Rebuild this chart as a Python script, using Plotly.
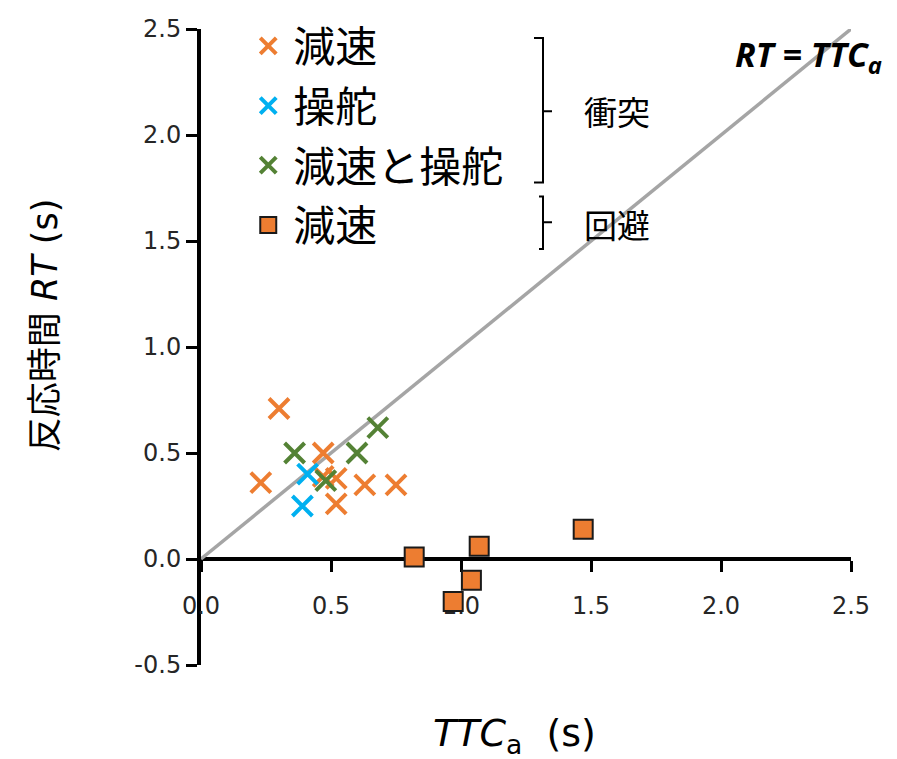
import plotly.graph_objects as go

# Data (TTC_a [s], RT [s])
dec_x = [0.30, 0.23, 0.47, 0.47, 0.52, 0.63, 0.75, 0.52]
dec_y = [0.71, 0.36, 0.50, 0.39, 0.38, 0.35, 0.35, 0.26]
steer_x = [0.41, 0.39]
steer_y = [0.40, 0.25]
both_x = [0.36, 0.60, 0.68, 0.48]
both_y = [0.50, 0.50, 0.62, 0.37]
avoid_x = [0.82, 1.07, 1.04, 0.97, 1.47]
avoid_y = [0.01, 0.06, -0.10, -0.20, 0.14]
diag = [0.0, 2.5]
tick_vals = [-0.5, 0.0, 0.5, 1.0, 1.5, 2.0, 2.5]
x_tick_vals = [0.0, 0.5, 1.0, 1.5, 2.0, 2.5]

ORANGE = "#ED7D31"
BLUE = "#00B0F0"
GREEN = "#548235"
GRAY = "#A5A5A5"

fig = go.Figure()
fig.add_trace(go.Scatter(x=diag, y=diag, mode="lines",
                         line=dict(color=GRAY, width=3.5), showlegend=False,
                         hoverinfo="skip"))

def xtrace(x, y, name, color, grp):
    return go.Scatter(x=x, y=y, mode="markers", name=name, legendgroup=grp,
                      marker=dict(symbol="x-thin", size=20, color=color,
                                  line=dict(color=color, width=4)),
                      legend="legend")

fig.add_trace(xtrace(dec_x, dec_y, "減速", ORANGE, "g1"))
fig.add_trace(xtrace(steer_x, steer_y, "操舵", BLUE, "g2"))
fig.add_trace(xtrace(both_x, both_y, "減速と操舵", GREEN, "g3"))
fig.add_trace(go.Scatter(x=avoid_x, y=avoid_y, mode="markers", name="減速",
                         marker=dict(symbol="square", size=19, color=ORANGE,
                                     line=dict(color="#1a1a1a", width=2)),
                         legend="legend2"))

axis_font = dict(family="DejaVu Sans", size=24, color="#262626")
leg_font = dict(family="Noto Sans CJK JP", size=42, color="black")
fig.update_layout(
    width=897, height=759,
    margin=dict(l=201, r=46, t=23, b=94),
    paper_bgcolor="white", plot_bgcolor="white",
    xaxis=dict(range=[0, 2.5], tickvals=x_tick_vals, ticktext=[f"{v:.1f}" for v in x_tick_vals],
               showgrid=False, zeroline=False, showline=True, linecolor="black", linewidth=4,
               ticks="outside", ticklen=11, tickwidth=3, tickcolor="black",
               tickfont=axis_font, anchor="free", position=1/6, layer="below traces",
               ticklabelstandoff=13),
    yaxis=dict(range=[-0.5, 2.5], tickvals=tick_vals, ticktext=[f"{v:.1f}" for v in tick_vals],
               showgrid=False, zeroline=False, showline=True, linecolor="black", linewidth=4,
               ticks="outside", ticklen=11, tickwidth=3, tickcolor="black",
               tickfont=axis_font, layer="below traces"),
    legend=dict(x=0.065, y=1.0265, xanchor="left", yanchor="top",
                font=leg_font, bgcolor="rgba(0,0,0,0)", tracegroupgap=2,
                traceorder="grouped", itemwidth=40),
    legend2=dict(x=0.065, y=0.745, xanchor="left", yanchor="top",
                 font=leg_font, bgcolor="rgba(0,0,0,0)", itemwidth=40),
    showlegend=True,
)

# Brackets (paper-pixel based)
def px_x(p):
    return (p - 201) / 650
def px_y(p):
    return (665 - p) / 642

def bracket(top, bot, mid, x0=543, hook=9, tick=9):
    path = (f"M {px_x(x0-hook)},{px_y(top)} L {px_x(x0)},{px_y(top)} L {px_x(x0)},{px_y(bot)} "
            f"L {px_x(x0-hook)},{px_y(bot)} M {px_x(x0)},{px_y(mid)} L {px_x(x0+tick)},{px_y(mid)}")
    fig.add_shape(type="path", path=path, xref="paper", yref="paper",
                  line=dict(color="black", width=2))

bracket(32, 178, 106)
bracket(192, 245, 218, hook=4)

def ann(x, y, text, font, xanchor="center", angle=0):
    fig.add_annotation(x=px_x(x), y=px_y(y), xref="paper", yref="paper", text=text,
                       showarrow=False, xanchor=xanchor, yanchor="middle",
                       textangle=angle, font=font)

cjk = dict(family="Noto Sans CJK JP", size=33, color="black")
ann(617, 106, "衝突", cjk)
ann(617, 220, "回避", cjk)
ann(884, 50, "<b><i>RT = TTC<sub>a</sub></i></b>",
    dict(family="Open Sans", size=34, color="black"), xanchor="right")
ann(514, 736, "<i>TTC</i><sub>a</sub>  (s)",
    dict(family="DejaVu Sans", size=38, color="black"))
ann(45, 322, "反応時間 <i>RT</i> (s)",
    dict(family="DejaVu Sans, Noto Sans CJK JP", size=35, color="black"), angle=-90)

fig.write_html("out.html")
